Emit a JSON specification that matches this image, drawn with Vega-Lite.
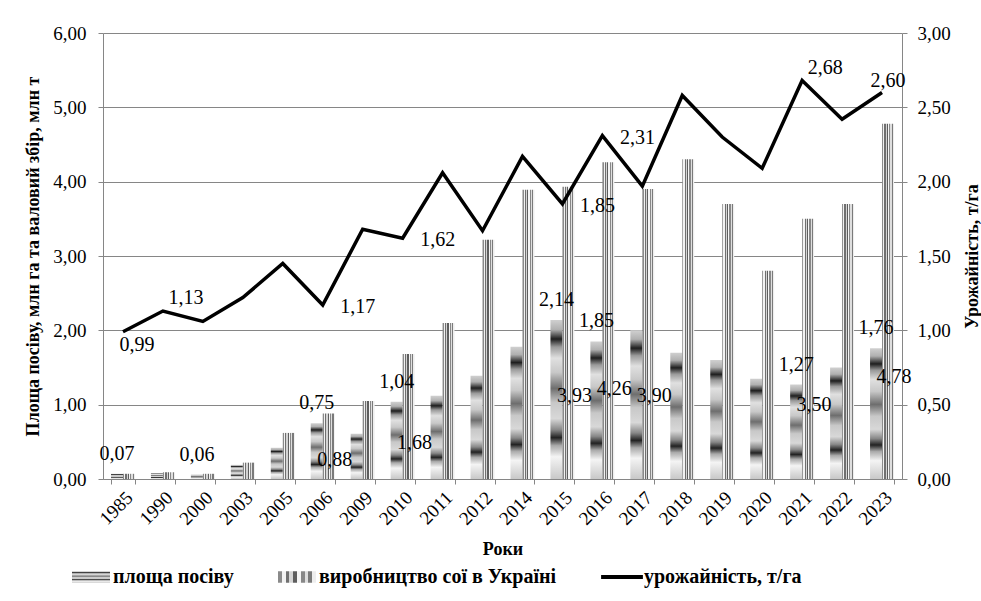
{
  "$schema": "https://vega.github.io/schema/vega-lite/v6.json",
  "width": 799,
  "height": 446,
  "autosize": {"type": "none"},
  "padding": {"left": 103, "top": 33, "right": 79, "bottom": 122},
  "background": "white",
  "config": {
    "font": "Liberation Serif",
    "view": {"stroke": null},
    "locale": {"number": {"decimal": ",", "thousands": " ", "grouping": [3], "currency": ["", ""]}},
    "axis": {
      "domainColor": "#868686",
      "tickColor": "#868686",
      "gridColor": "#868686",
      "labelFont": "Liberation Serif",
      "labelFontSize": 19,
      "labelColor": "black",
      "titleFont": "Liberation Serif",
      "titleFontSize": 18,
      "titleFontWeight": "bold",
      "titleColor": "black",
      "tickSize": 5
    },
    "text": {"font": "Liberation Serif", "fontSize": 20, "color": "black", "baseline": "middle", "align": "center"}
  },
  "data": {
    "values": [
      {"year": 1985, "area": 0.07, "production": 0.07, "yield": 0.99},
      {"year": 1990, "area": 0.08, "production": 0.09, "yield": 1.13},
      {"year": 2000, "area": 0.06, "production": 0.07, "yield": 1.06},
      {"year": 2003, "area": 0.19, "production": 0.22, "yield": 1.22},
      {"year": 2005, "area": 0.42, "production": 0.62, "yield": 1.45},
      {"year": 2006, "area": 0.75, "production": 0.88, "yield": 1.17},
      {"year": 2009, "area": 0.61, "production": 1.05, "yield": 1.68},
      {"year": 2010, "area": 1.04, "production": 1.68, "yield": 1.62},
      {"year": 2011, "area": 1.12, "production": 2.10, "yield": 2.06},
      {"year": 2012, "area": 1.39, "production": 3.22, "yield": 1.67},
      {"year": 2014, "area": 1.78, "production": 3.89, "yield": 2.17},
      {"year": 2015, "area": 2.14, "production": 3.93, "yield": 1.85},
      {"year": 2016, "area": 1.85, "production": 4.26, "yield": 2.31},
      {"year": 2017, "area": 2.00, "production": 3.90, "yield": 1.97},
      {"year": 2018, "area": 1.70, "production": 4.30, "yield": 2.58},
      {"year": 2019, "area": 1.60, "production": 3.70, "yield": 2.30},
      {"year": 2020, "area": 1.35, "production": 2.80, "yield": 2.09},
      {"year": 2021, "area": 1.27, "production": 3.50, "yield": 2.68},
      {"year": 2022, "area": 1.50, "production": 3.70, "yield": 2.42},
      {"year": 2023, "area": 1.76, "production": 4.78, "yield": 2.60}
    ]
  },
  "encoding": {
    "x": {
      "field": "year",
      "type": "ordinal",
      "scale": {"paddingInner": 0.4, "paddingOuter": 0.2},
      "axis": {
        "title": "Роки",
        "labelAngle": -45,
        "tickBand": "extent",
        "grid": false,
        "labelPadding": 4,
        "titlePadding": 12
      }
    }
  },
  "layer": [
    {
      "layer": [
        {
          "transform": [{"fold": ["area", "production"], "as": ["key", "value"]}],
          "mark": {"type": "bar"},
          "encoding": {
            "y": {
              "field": "value",
              "type": "quantitative",
              "scale": {"domain": [0, 6]},
              "axis": {
                "orient": "left",
                "values": [0, 1, 2, 3, 4, 5, 6],
                "format": ".2f",
                "grid": true,
                "title": "Площа посіву, млн га та валовий збір, млн т",
                "labelPadding": 12,
                "titlePadding": 10
              }
            },
            "xOffset": {"field": "key", "type": "nominal", "scale": {"domain": ["area", "production"]}},
            "color": {
              "field": "key",
              "type": "nominal",
              "scale": {
                "domain": ["area", "production", "yield"],
                "range": [
                  {"expr": "{gradient:'linear', x1:0, y1:0, x2:0, y2:1, stops:[{offset:0,color:'#d0d0d0'},{offset:0.06,color:'#b0b0b0'},{offset:0.12,color:'#1e1e1e'},{offset:0.17,color:'#9a9a9a'},{offset:0.24,color:'#e0e0e0'},{offset:0.33,color:'#c8c8c8'},{offset:0.43,color:'#6e6e6e'},{offset:0.52,color:'#c8c8c8'},{offset:0.62,color:'#d8d8d8'},{offset:0.69,color:'#888888'},{offset:0.74,color:'#222222'},{offset:0.79,color:'#aaaaaa'},{offset:0.86,color:'#f4f4f4'},{offset:1,color:'#c8c8c8'}]}"},
                  {"expr": "{gradient:'linear', x1:0, y1:0, x2:1, y2:0, stops:[{offset:0,color:'#8a8a8a'},{offset:0.1,color:'#8a8a8a'},{offset:0.1,color:'#f2f2f2'},{offset:0.2,color:'#f2f2f2'},{offset:0.2,color:'#707070'},{offset:0.3,color:'#707070'},{offset:0.3,color:'#d4d4d4'},{offset:0.4,color:'#d4d4d4'},{offset:0.4,color:'#5e5e5e'},{offset:0.5,color:'#5e5e5e'},{offset:0.5,color:'#f5f5f5'},{offset:0.6,color:'#f5f5f5'},{offset:0.6,color:'#888888'},{offset:0.7,color:'#888888'},{offset:0.7,color:'#dedede'},{offset:0.8,color:'#dedede'},{offset:0.8,color:'#7a7a7a'},{offset:0.9,color:'#7a7a7a'},{offset:0.9,color:'#eeeeee'},{offset:1,color:'#eeeeee'}]}"},
                  "black"
                ]
              },
              "legend": {
                "orient": "none",
                "legendX": -31,
                "legendY": 525,
                "direction": "horizontal",
                "title": null,
                "labelExpr": "datum.value == 'area' ? 'площа посіву' : datum.value == 'production' ? 'виробництво сої в Україні' : 'урожайність, т/га'",
                "labelFont": "Liberation Serif",
                "labelFontSize": 20,
                "labelFontWeight": "bold",
                "labelColor": "black",
                "labelLimit": 0,
                "symbolType": "M-1,-0.3H1V0.3H-1Z",
                "symbolSize": 1444,
                "symbolStrokeWidth": 0,
                "columnPadding": 44,
                "labelOffset": 3,
                "encode": {
                  "symbols": {
                    "update": {
                      "shape": {"signal": "datum.value == 'yield' ? 'M-1.1,-0.1H1.1V0.1H-1.1Z' : 'M-1,-0.3H1V0.3H-1Z'"}
                    }
                  }
                }
              }
            }
          }
        },
        {
          "transform": [{"filter": {"field": "year", "oneOf": [1985, 2000, 2006, 2010, 2015, 2016, 2021, 2023]}}],
          "mark": {"type": "text", "dy": -20},
          "encoding": {
            "y": {"field": "area", "type": "quantitative"},
            "xOffset": {"datum": "area"},
            "text": {"field": "area", "type": "quantitative", "format": ".2f"}
          }
        }
      ]
    },
    {
      "layer": [
        {
          "mark": {"type": "line", "strokeWidth": 3.5, "strokeJoin": "miter"},
          "encoding": {
            "y": {
              "field": "yield",
              "type": "quantitative",
              "scale": {"domain": [0, 3]},
              "axis": {
                "orient": "right",
                "values": [0, 0.5, 1, 1.5, 2, 2.5, 3],
                "format": ".2f",
                "grid": false,
                "title": "Урожайність, т/га",
                "titleAngle": 270,
                "labelPadding": 10,
                "titlePadding": 31
              }
            },
            "color": {"datum": "yield"}
          }
        },
        {
          "transform": [{"filter": {"field": "year", "oneOf": [1985]}}],
          "mark": {"type": "text", "dx": 14, "dy": 13},
          "encoding": {"y": {"field": "yield", "type": "quantitative"}, "text": {"field": "yield", "type": "quantitative", "format": ".2f"}}
        },
        {
          "transform": [{"filter": {"field": "year", "oneOf": [1990, 2021]}}],
          "mark": {"type": "text", "dx": 23, "dy": -13},
          "encoding": {"y": {"field": "yield", "type": "quantitative"}, "text": {"field": "yield", "type": "quantitative", "format": ".2f"}}
        },
        {
          "transform": [{"filter": {"field": "year", "oneOf": [2023]}}],
          "mark": {"type": "text", "dx": 6, "dy": -11},
          "encoding": {"y": {"field": "yield", "type": "quantitative"}, "text": {"field": "yield", "type": "quantitative", "format": ".2f"}}
        },
        {
          "transform": [{"filter": {"field": "year", "oneOf": [2006, 2010, 2015, 2016]}}],
          "mark": {"type": "text", "dx": 35, "dy": 2},
          "encoding": {"y": {"field": "yield", "type": "quantitative"}, "text": {"field": "yield", "type": "quantitative", "format": ".2f"}}
        }
      ]
    },
    {
      "transform": [{"filter": {"field": "year", "oneOf": [2006, 2010, 2015, 2016, 2017, 2021, 2023]}}],
      "mark": {"type": "text", "dx": 6},
      "encoding": {
        "y": {"field": "production", "type": "quantitative", "scale": {"domain": [0, 21]}, "axis": null},
        "xOffset": {"datum": "production"},
        "text": {"field": "production", "type": "quantitative", "format": ".2f"}
      }
    }
  ],
  "resolve": {"scale": {"y": "independent"}}
}
